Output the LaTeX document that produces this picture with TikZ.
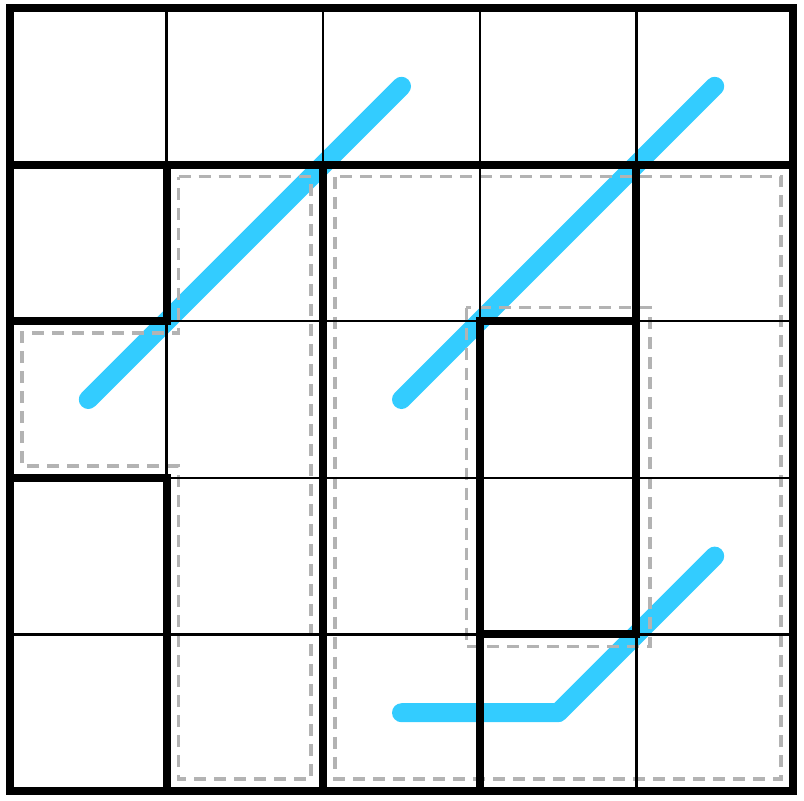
\documentclass[tikz,border=0pt]{standalone}
\usetikzlibrary{calc}
\definecolor{pathblue}{HTML}{33CCFF}
\definecolor{dashgray}{HTML}{B3B3B3}
\begin{document}
\begin{tikzpicture}[x=156.6pt,y=-156.6pt,
  thin grid/.style={line width=2.5pt,black},
  wall/.style={line width=8pt,black,line cap=square},
  regionbox/.style={line width=3.5pt,dashgray,dash pattern=on 12pt off 8pt},
  route/.style={line width=19pt,pathblue,line cap=round,line join=round}]
\useasboundingbox (-0.0639,-0.0511) rectangle (5.0702,5.0575);
% routes (drawn underneath)
\coordinate (a1) at (0.5,2.5); \coordinate (a2) at (2.5,0.5);
\coordinate (b1) at (2.5,2.5); \coordinate (b2) at (4.5,0.5);
\coordinate (c1) at (2.5,4.5); \coordinate (c2) at (3.5,4.5); \coordinate (c3) at (4.5,3.5);
\draw[route] (a1) -- (a2);
\draw[route] (b1) -- (b2);
\draw[route] (c1) -- (c2) -- (c3);
% dashed regions
\def\e{0.0766}
\draw[regionbox] (1+\e,1+\e) -- (2-\e,1+\e) -- (2-\e,5-\e) -- (1+\e,5-\e) -- (1+\e,3-\e) -- (\e,3-\e) -- (\e,2+\e) -- (1+\e,2+\e) -- cycle;
\draw[regionbox] (2+\e,1+\e) rectangle (5-\e,5-\e);
\draw[regionbox] (3-0.0866,2-0.0866) rectangle (4+0.0866,4+0.0766);
% thin grid
\foreach \i in {1,2,3,4} {
  \draw[thin grid] (\i,0) -- (\i,5);
  \draw[thin grid] (0,\i) -- (5,\i);
}
% walls
\draw[wall] (0,1) -- (5,1);
\draw[wall] (1,1) -- (1,2) -- (0,2);
\draw[wall] (0,3) -- (1,3) -- (1,5);
\draw[wall] (2,1) -- (2,5);
\draw[wall] (3,5) -- (3,2) -- (4,2);
\draw[wall] (4,1) -- (4,4) -- (3,4);
\draw[wall] (0,0) rectangle (5,5);
\end{tikzpicture}
\end{document}
